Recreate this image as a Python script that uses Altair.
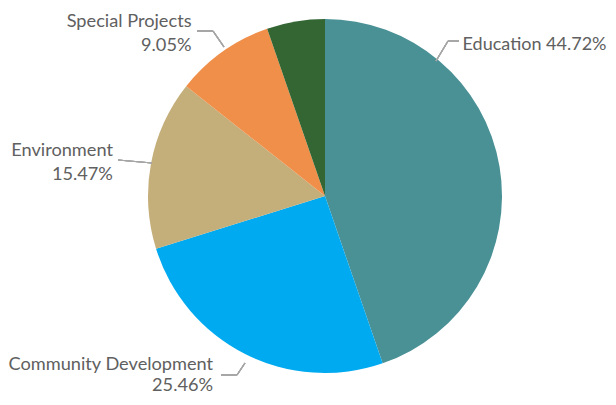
import altair as alt
import pandas as pd

categories = ["Education", "Community Development", "Environment", "Special Projects", "Other"]
values = [44.72, 25.46, 15.47, 9.05, 5.30]
colors = ["#4A9196", "#00AAF0", "#C4AE7A", "#F08F4A", "#336633"]
label_sep = [" ", "\n", "\n", "\n", ""]

df = pd.DataFrame({
    "category": categories,
    "value": values,
    "order": list(range(len(categories))),
    "label": [f"{c}{s}{v:.2f}%" for c, s, v in zip(categories, label_sep, values)],
})

CX, CY, R = 317, 188, 177
FONT = "Lato"
TXT = "#606060"
LINE = "#A6A6A6"

base = alt.Chart(df)
theta = alt.Theta("value:Q", stack=True, scale=alt.Scale(domain=[0, 100]))
order = alt.Order("order:O")

pie = base.mark_arc(radius=R).encode(
    theta=theta,
    order=order,
    color=alt.Color("category:N", scale=alt.Scale(domain=categories, range=colors), legend=None),
    x=alt.value(CX),
    y=alt.value(CY),
)


def label_layer(cat, align, dx, dy, lh=24, fs=18.2):
    return base.mark_text(
        radius=R, align=align, baseline="middle", dx=dx, dy=dy,
        font=FONT, fontSize=fs, color=TXT, lineBreak="\n", lineHeight=lh,
    ).encode(
        theta=theta,
        order=order,
        x=alt.value(CX),
        y=alt.value(CY),
        text=alt.condition(f"datum.category == '{cat}'", "label:N", alt.value("")),
    )


labels = [
    label_layer("Education", "left", -37, -122, fs=18),
    label_layer("Community Development", "right", -32, 11, 21),
    label_layer("Environment", "right", -38, -13),
    label_layer("Special Projects", "right", -31, -30),
]

segments = [
    (189, 23, 205, 23), (205, 23, 216, 39),
    (110, 152, 144, 155),
    (213, 367, 229, 367), (229, 367, 237, 355),
    (428, 53, 440, 33), (440, 33, 451, 33),
]
leaders = [
    alt.Chart(df).mark_rule(color=LINE, strokeWidth=1.2).encode(
        x=alt.value(x1), y=alt.value(y1), x2=alt.value(x2), y2=alt.value(y2)
    )
    for (x1, y1, x2, y2) in segments
]

chart = alt.layer(pie, *leaders, *labels).properties(
    width=600, height=389, padding=0,
    autosize=alt.AutoSizeParams(type="none"),
).configure_view(stroke=None)

chart.save("out.html", embed_options={"renderer": "svg", "actions": False})
